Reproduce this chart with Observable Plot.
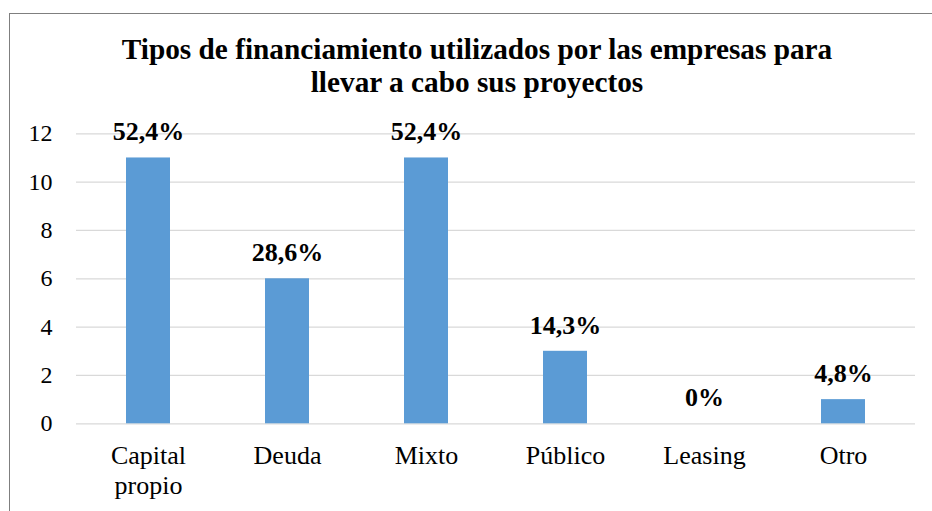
<!DOCTYPE html>
<html><head><meta charset="utf-8">
<script src="https://cdn.jsdelivr.net/npm/d3@7"></script>
<script src="https://cdn.jsdelivr.net/npm/@observablehq/plot@0.6"></script>
<style>
html,body{margin:0;padding:0;width:932px;height:511px;overflow:hidden;background:#fff;}
#frame{position:absolute;left:9px;top:13px;width:1000px;height:600px;border:1.3px solid #7f7f7f;box-sizing:border-box;}
#title{position:absolute;left:9px;width:936px;top:33px;text-align:center;font-family:"Liberation Serif", "Times New Roman", serif;font-weight:bold;font-size:29.3px;line-height:33px;color:#000;}
#chart{position:absolute;left:0;top:100px;}
#chart svg, #chart svg text, #chart svg g {font-family:"Liberation Serif", "Times New Roman", serif !important;}
</style></head>
<body>
<div id="frame"></div>
<div id="title">Tipos de financiamiento utilizados por las empresas para<br>llevar a cabo sus proyectos</div>
<div id="chart"></div>
<script>
const categories = ["Capital propio", "Deuda", "Mixto", "Público", "Leasing", "Otro"];
const counts = [11, 6, 11, 3, 0, 1];
const percentLabels = ["52,4%", "28,6%", "52,4%", "14,3%", "0%", "4,8%"];
const yTicks = [0, 2, 4, 6, 8, 10, 12];

const data = categories.map((c, i) => ({category: c, count: counts[i], label: percentLabels[i]}));

const plot = Plot.plot({
  width: 932, height: 411,
  marginLeft: 76, marginRight: 17, marginTop: 33.3, marginBottom: 87.7,
  style: {background: "transparent", fontFamily: '"Liberation Serif", "Times New Roman", serif', color: "#000"},
  x: {domain: categories, paddingInner: 0.685, paddingOuter: 0.3425, label: null},
  y: {domain: [0, 12], label: null},
  marks: [
    Plot.gridY(yTicks, {stroke: "#d9d9d9", strokeOpacity: 1, strokeWidth: 1.3}),
    Plot.axisY(yTicks, {tickSize: 0, tickPadding: 24, fontSize: 24, label: null}),
    Plot.axisX({tickSize: 0, tickPadding: 19, fontSize: 26, lineHeight: 1.15, tickFormat: d => d.replace(" ", "\n"), label: null}),
    Plot.barY(data, {x: "category", y: "count", fill: "#5B9BD5"}),
    Plot.text(data, {x: "category", y: "count", text: "label", lineAnchor: "bottom", dy: -17.5, fontSize: 26, fontWeight: "bold", fill: "#000"})
  ]
});
document.getElementById("chart").appendChild(plot);
</script>
</body></html>
